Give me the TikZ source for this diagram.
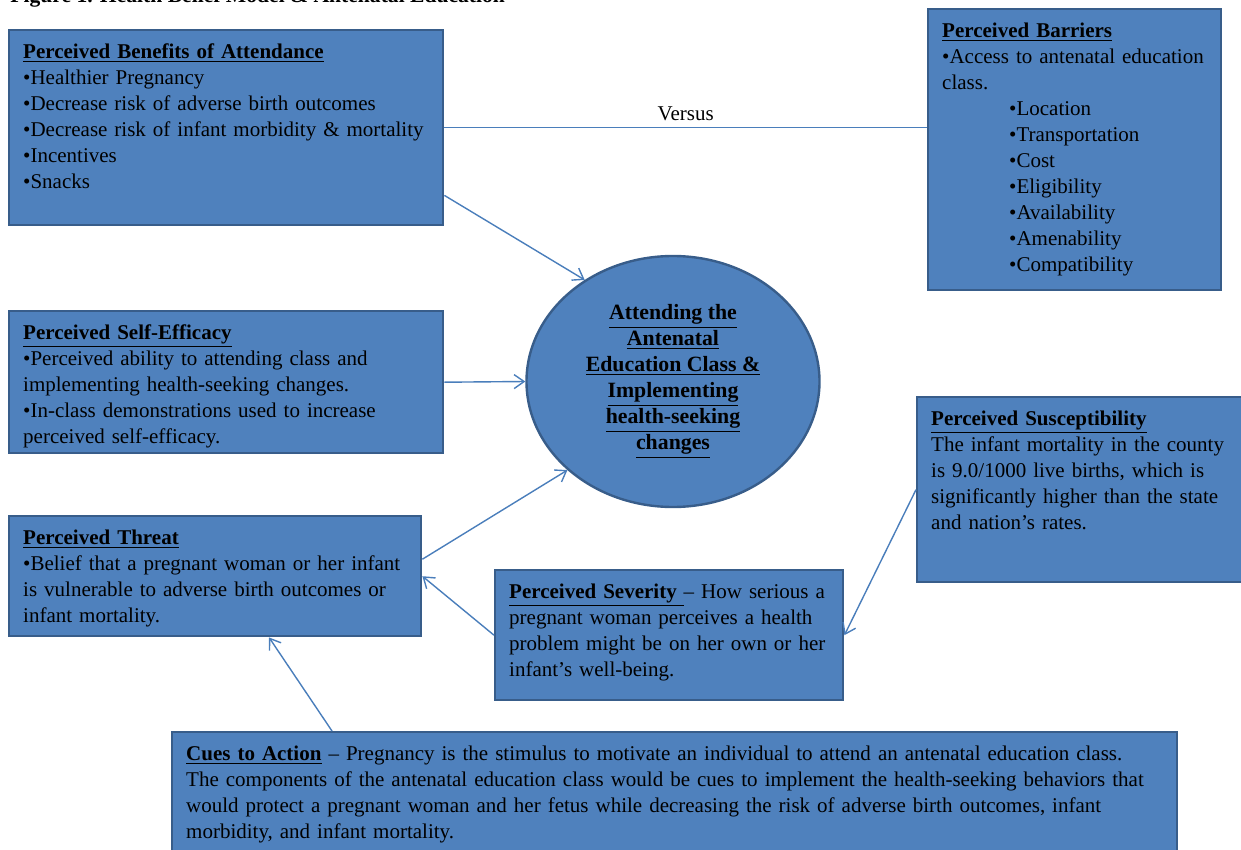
\documentclass[tikz,border=0pt]{standalone}
\usepackage{fontspec}
\setmainfont{Liberation Serif}
\usetikzlibrary{shapes.geometric,arrows.meta}
\definecolor{boxblue}{HTML}{4F81BD}
\definecolor{edgeblue}{HTML}{385D8A}
\definecolor{lineblue}{HTML}{4A7EBB}
\tikzset{
  block/.style={draw=edgeblue, fill=boxblue, line width=1.2pt, anchor=north west,
    align=left, inner sep=7pt, text height=7pt, font=\fontsize{10.5}{13}\selectfont},
  goal/.style={ellipse, draw=edgeblue, fill=boxblue, line width=1.2pt, inner sep=0pt,
    minimum width=146.5pt, minimum height=125.5pt, align=center,
    font=\bfseries\fontsize{10.9}{13}\selectfont},
  link/.style={draw=lineblue, line width=0.7pt}
}
\newcommand{\headline}[1]{\underline{\textbf{#1}}}
\begin{document}
\begin{tikzpicture}[x=0.5pt, y=-0.5pt, >={Straight Barb[length=5pt,width=7pt]}]
          \useasboundingbox (0,0) rectangle (1241,850);
          \node[anchor=base west, inner sep=0pt, font=\bfseries\fontsize{10.8}{13}\selectfont] (figtitle) at (10,3)
            {Figure 1. Health Belief Model \& Antenatal Education};

          % boxes
          \node[block, text width=203pt, text depth=76.5pt] (benefits) at (8,29)
            {\headline{Perceived Benefits of Attendance}\\
             •Healthier Pregnancy\\
             •Decrease risk of adverse birth outcomes\\
             •Decrease risk of infant morbidity \& mortality\\
             •Incentives\\
             •Snacks};
          \node[block, text width=132.5pt, text depth=119.5pt] (barriers) at (927,8)
            {\headline{Perceived Barriers}\\
             •Access to antenatal education\\
             class.\\
             \hspace*{33.5pt}•Location\\
             \hspace*{33.5pt}•Transportation\\
             \hspace*{33.5pt}•Cost\\
             \hspace*{33.5pt}•Eligibility\\
             \hspace*{33.5pt}•Availability\\
             \hspace*{33.5pt}•Amenability\\
             \hspace*{33.5pt}•Compatibility};
          \node[block, text width=203pt, text depth=50pt] (efficacy) at (8,310)
            {\headline{Perceived Self-Efficacy}\\
             •Perceived ability to attending class and\\
             implementing health-seeking changes.\\
             •In-class demonstrations used to increase\\
             perceived self-efficacy.};
          \node[goal] (attend) at (673,381.5)
            {\underline{Attending the}\\
             \underline{Antenatal}\\
             \underline{Education Class \&}\\
             \underline{Implementing}\\
             \underline{health-seeking}\\
             \underline{changes}};
          \node[block, text width=148.5pt, text depth=71.5pt] (suscept) at (916,396)
            {\headline{Perceived Susceptibility}\\
             The infant mortality in the county\\
             is 9.0/1000 live births, which is\\
             significantly higher than the state\\
             and nation’s rates.};
          \node[block, text width=192pt, text depth=39pt] (threat) at (8,515)
            {\headline{Perceived Threat}\\
             •Belief that a pregnant woman or her infant\\
             is vulnerable to adverse birth outcomes or\\
             infant mortality.};
          \node[block, text width=160pt, text depth=44pt] (severity) at (494,569)
            {\headline{Perceived Severity\ }\textendash{} How serious a\\
             pregnant woman perceives a health\\
             problem might be on her own or her\\
             infant’s well-being.};
          \node[block, text width=488.5pt, text depth=52pt] (cues) at (171,731)
            {\headline{Cues to Action} \textendash{} Pregnancy is the stimulus to motivate an individual to attend an antenatal education class.\\
             The components of the antenatal education class would be cues to implement the health-seeking behaviors that\\
             would protect a pregnant woman and her fetus while decreasing the risk of adverse birth outcomes, infant\\
             morbidity, and infant mortality.};

          % connectors
          \draw[link] (benefits.east) to node[above, midway, font=\fontsize{10.5}{13}\selectfont]{Versus} (benefits.east -| barriers.west);
          \draw[link, ->] ([yshift=15.5pt]benefits.south east) to (attend.131.5);
          \draw[link, ->] (efficacy.east) to (attend.west);
          \draw[link, ->] ([yshift=8.5pt]threat.east) to (attend.220.2);
          \draw[link, ->] (severity.west) to (threat.east);
          \draw[link, ->] (suscept.west) to (severity.east);
          \draw[link, ->] ([xshift=80.5pt]cues.north west) to ([xshift=130.5pt]threat.south west);
        \end{tikzpicture}
\end{document}
